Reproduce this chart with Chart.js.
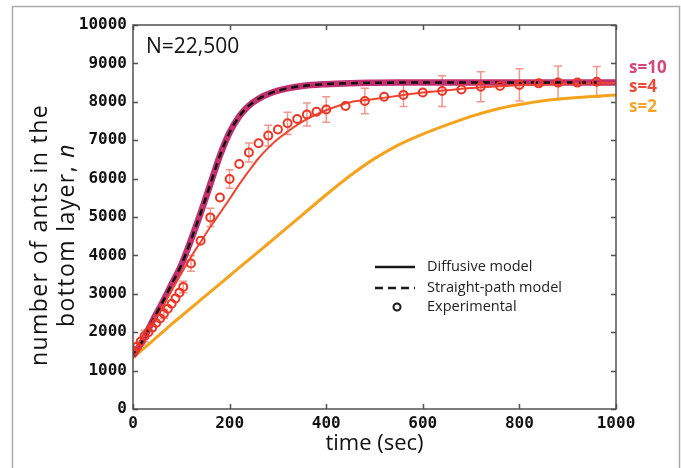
<!DOCTYPE html>
<html>
<head>
<meta charset="utf-8">
<script src="https://cdn.jsdelivr.net/npm/chart.js@4.4.0/dist/chart.umd.min.js"></script>
<style>
  body { margin: 0; background: #fff; }
  #wrap { width: 681px; height: 468px; }
</style>
</head>
<body>
<div id="wrap"><canvas id="antsChart"></canvas></div>
<script>
// model curves (time in sec -> ants in bottom layer)
const modelTime = [0, 20, 40, 60, 80, 100, 120, 140, 160, 180, 200, 220, 240, 260, 280, 300,
  350, 400, 450, 500, 550, 600, 650, 700, 750, 800, 850, 900, 950, 1000];
const diffusiveS10 = [1380, 1780, 2280, 2750, 3250, 3750, 4400, 5100, 5850, 6600, 7200, 7620, 7900, 8080, 8200, 8290,
  8410, 8460, 8485, 8495, 8500, 8500, 8500, 8500, 8500, 8500, 8500, 8500, 8500, 8500];
const diffusiveS4 = [1500, 1850, 2250, 2650, 3080, 3530, 3960, 4350, 4740, 5100, 5470, 5850, 6200, 6530, 6800, 7030,
  7480, 7780, 7990, 8070, 8160, 8240, 8300, 8360, 8400, 8430, 8450, 8470, 8480, 8490];
const diffusiveS2 = [1330, 1550, 1770, 1990, 2210, 2420, 2630, 2840, 3050, 3260, 3470, 3680, 3890, 4100, 4310, 4520,
  5050, 5580, 6080, 6520, 6880, 7160, 7400, 7620, 7800, 7930, 8030, 8090, 8140, 8180];

// straight-path model (dashed), stops a bit before 1000
const straightTime = [0, 20, 40, 60, 80, 100, 120, 140, 160, 180, 200, 220, 240, 260, 280, 300,
  350, 400, 450, 500, 550, 600, 650, 700, 750, 800, 850, 900, 960];
const straightPath = [1380, 1780, 2280, 2750, 3250, 3750, 4400, 5100, 5850, 6600, 7200, 7620, 7900, 8080, 8200, 8290,
  8410, 8460, 8485, 8495, 8500, 8500, 8500, 8500, 8500, 8500, 8500, 8500, 8500];

// experimental points, error = half height of the bar (0 = no bar)
const expTime = [0, 8, 16, 24, 32, 40, 48, 56, 64, 72, 80, 88, 96, 104, 120, 140, 160, 180, 200, 220, 240, 260, 280,
  300, 320, 340, 360, 380, 400, 440, 480, 520, 560, 600, 640, 680, 720, 760, 800, 840, 880, 920, 960];
const expCount = [1520, 1620, 1760, 1900, 2000, 2120, 2240, 2360, 2480, 2610, 2740, 2880, 3030, 3180, 3790, 4380, 4990,
  5510, 5990, 6380, 6680, 6920, 7120, 7280, 7440, 7550, 7670, 7740, 7800, 7890, 8020, 8130, 8180, 8240, 8280, 8320,
  8390, 8410, 8440, 8480, 8500, 8500, 8520];
const expError = [0, 0, 0, 150, 0, 0, 0, 0, 120, 0, 0, 0, 0, 150, 200, 0, 240, 0, 240, 0, 250, 0, 270,
  0, 290, 0, 300, 0, 330, 0, 330, 0, 300, 0, 400, 0, 390, 0, 420, 0, 430, 0, 400];

const xTicks = [0, 200, 400, 600, 800, 1000];
const yTicks = [0, 1000, 2000, 3000, 4000, 5000, 6000, 7000, 8000, 9000, 10000];

const seriesLabels = ['s=10', 's=4', 's=2'];
const legendLabels = ['Diffusive model', 'Straight-path model', 'Experimental'];

const toPoints = (xs, ys) => xs.map((x, i) => ({ x: x, y: ys[i] }));

const tickFont = { family: 'DejaVu Sans Mono', size: 16, weight: 'bold' };

// everything Chart.js does not draw by itself: frame, inward ticks, titles, legend, error bars
const decorations = {
  id: 'decorations',
  beforeDraw(chart) {
    const ctx = chart.ctx;
    ctx.save();
    ctx.fillStyle = '#fff';
    ctx.fillRect(0, 0, chart.width, chart.height);
    ctx.strokeStyle = '#aaa';
    ctx.lineWidth = 1.5;
    ctx.beginPath();
    ctx.moveTo(12.5, chart.height);
    ctx.lineTo(12.5, 6.5);
    ctx.lineTo(679.5, 6.5);
    ctx.lineTo(679.5, chart.height);
    ctx.stroke();
    ctx.restore();
  },
  beforeDatasetsDraw(chart) {
    const ctx = chart.ctx;
    const xs = chart.scales.x, ys = chart.scales.y;
    ctx.save();
    ctx.strokeStyle = '#f4968c';
    ctx.lineWidth = 1.5;
    expTime.forEach((t, i) => {
      if (!expError[i]) return;
      const px = xs.getPixelForValue(t);
      const top = ys.getPixelForValue(expCount[i] + expError[i]);
      const bot = ys.getPixelForValue(expCount[i] - expError[i]);
      ctx.beginPath();
      ctx.moveTo(px, top); ctx.lineTo(px, bot);
      ctx.moveTo(px - 4, top); ctx.lineTo(px + 4, top);
      ctx.moveTo(px - 4, bot); ctx.lineTo(px + 4, bot);
      ctx.stroke();
    });
    ctx.restore();
  },
  afterDraw(chart) {
    const ctx = chart.ctx;
    const a = chart.chartArea;
    const xs = chart.scales.x, ys = chart.scales.y;
    ctx.save();

    // axes box + inward ticks
    ctx.strokeStyle = '#505050';
    ctx.lineWidth = 1.5;
    ctx.strokeRect(a.left, a.top, a.right - a.left, a.bottom - a.top);
    ctx.beginPath();
    xTicks.forEach(v => {
      const px = Math.round(xs.getPixelForValue(v)) + 0.5;
      ctx.moveTo(px, a.bottom); ctx.lineTo(px, a.bottom - 5);
      ctx.moveTo(px, a.top); ctx.lineTo(px, a.top + 5);
    });
    yTicks.forEach(v => {
      const py = Math.round(ys.getPixelForValue(v)) + 0.5;
      ctx.moveTo(a.left, py); ctx.lineTo(a.left + 5, py);
      ctx.moveTo(a.right, py); ctx.lineTo(a.right - 5, py);
    });
    ctx.stroke();

    // x title
    ctx.fillStyle = '#111';
    ctx.font = '22px "Open Sans"';
    ctx.textAlign = 'center';
    ctx.textBaseline = 'middle';
    ctx.fillText('time (sec)', (a.left + a.right) / 2, 444);

    // y title, two lines, italic n
    ctx.save();
    ctx.translate(0, 235);
    ctx.rotate(-Math.PI / 2);
    ctx.letterSpacing = '1.4px';
    ctx.font = '23px "Open Sans"';
    ctx.textAlign = 'center';
    ctx.fillText('number of ants in the', 0, 40);
    const part = 'bottom layer, ';
    const w1 = ctx.measureText(part).width;
    ctx.font = 'italic 23px "Open Sans"';
    const w2 = ctx.measureText('n').width;
    ctx.textAlign = 'left';
    ctx.font = '23px "Open Sans"';
    ctx.fillText(part, -(w1 + w2) / 2, 67);
    ctx.font = 'italic 23px "Open Sans"';
    ctx.fillText('n', -(w1 + w2) / 2 + w1, 67);
    ctx.restore();

    // N label
    ctx.font = '21px "Open Sans"';
    ctx.textAlign = 'left';
    ctx.fillStyle = '#111';
    ctx.fillText('N=22,500', a.left + 13, 47);

    // legend
    const lx = 375, tx = 427;
    const rows = [267, 288, 307];
    ctx.strokeStyle = '#1a1a1a';
    ctx.lineWidth = 2.5;
    ctx.beginPath();
    ctx.moveTo(lx, rows[0]); ctx.lineTo(lx + 40, rows[0]);
    ctx.stroke();
    ctx.setLineDash([8, 5]);
    ctx.beginPath();
    ctx.moveTo(lx, rows[1]); ctx.lineTo(lx + 40, rows[1]);
    ctx.stroke();
    ctx.setLineDash([]);
    ctx.lineWidth = 2;
    ctx.beginPath();
    ctx.arc(lx + 22, rows[2], 3.5, 0, Math.PI * 2);
    ctx.stroke();
    ctx.font = '14.5px "Open Sans"';
    ctx.fillStyle = '#222';
    legendLabels.forEach((t, i) => ctx.fillText(t, tx, rows[i]));

    // s labels on the right
    const sColors = ['#d6457d', '#f04a36', '#f7a52a'];
    const sRows = [68, 87, 107];
    ctx.font = 'bold 17px "Open Sans"';
    seriesLabels.forEach((t, i) => {
      ctx.fillStyle = sColors[i];
      ctx.fillText(t, a.right + 13, sRows[i]);
    });
    ctx.restore();
  }
};

new Chart(document.getElementById('antsChart'), {
  type: 'line',
  data: {
    datasets: [
      {
        label: 'Experimental',
        data: toPoints(expTime, expCount),
        showLine: false,
        pointStyle: 'circle',
        pointRadius: 4,
        pointBorderWidth: 2,
        pointBorderColor: '#ee3524',
        pointBackgroundColor: 'rgba(0,0,0,0)',
        order: 0
      },
      {
        label: 'Straight-path model',
        data: toPoints(straightTime, straightPath),
        borderColor: '#111',
        borderWidth: 2.5,
        borderDash: [7, 5],
        pointRadius: 0,
        cubicInterpolationMode: 'monotone',
        order: 1
      },
      {
        label: 's=4',
        data: toPoints(modelTime, diffusiveS4),
        borderColor: '#f2452f',
        borderWidth: 2,
        pointRadius: 0,
        cubicInterpolationMode: 'monotone',
        order: 2
      },
      {
        label: 's=10',
        data: toPoints(modelTime, diffusiveS10),
        borderColor: '#c2306f',
        borderWidth: 6.5,
        pointRadius: 0,
        cubicInterpolationMode: 'monotone',
        order: 3
      },
      {
        label: 's=2',
        data: toPoints(modelTime, diffusiveS2),
        borderColor: '#f7a21b',
        borderWidth: 3,
        pointRadius: 0,
        cubicInterpolationMode: 'monotone',
        order: 4
      }
    ]
  },
  options: {
    responsive: true,
    maintainAspectRatio: false,
    animation: false,
    layout: { padding: { left: 0, top: 25, right: 65, bottom: 0 } },
    plugins: {
      legend: { display: false },
      tooltip: { enabled: false }
    },
    scales: {
      x: {
        type: 'linear',
        min: 0,
        max: 1000,
        afterBuildTicks: s => { s.ticks = xTicks.map(v => ({ value: v })); },
        afterFit: s => { s.height = 59; },
        grid: { display: false, drawTicks: false },
        border: { display: false },
        ticks: { font: tickFont, color: '#111', padding: 5, maxRotation: 0, callback: v => String(v) }
      },
      y: {
        type: 'linear',
        min: 0,
        max: 10000,
        afterBuildTicks: s => { s.ticks = yTicks.map(v => ({ value: v })); },
        afterFit: s => { s.width = 133; },
        grid: { display: false, drawTicks: false },
        border: { display: false },
        ticks: { font: tickFont, color: '#111', padding: 6, callback: v => String(v) }
      }
    }
  },
  plugins: [decorations]
});
</script>
</body>
</html>
